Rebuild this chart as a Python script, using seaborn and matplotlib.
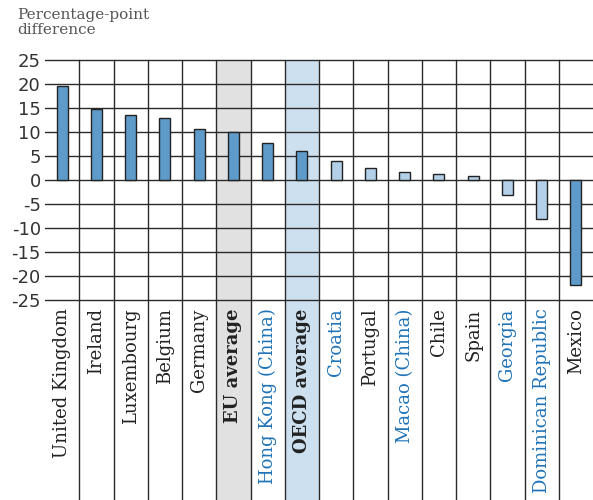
import numpy as np
import pandas as pd
import seaborn as sns
import matplotlib.pyplot as plt

countries = ["United Kingdom", "Ireland", "Luxembourg", "Belgium", "Germany",
             "EU average", "Hong Kong (China)", "OECD average", "Croatia",
             "Portugal", "Macao (China)", "Chile", "Spain", "Georgia",
             "Dominican Republic", "Mexico"]
values = [19.6, 14.8, 13.6, 13.0, 10.7, 9.9, 7.8, 6.1, 3.9, 2.5, 1.6, 1.3,
          0.9, -3.2, -8.2, -21.9]
significant = [True, True, True, True, True, True, True, True, False, False,
               False, False, False, False, False, True]
partners = ["Hong Kong (China)", "Croatia", "Macao (China)", "Georgia",
            "Dominican Republic"]
averages = {"EU average": "#e1e1e1", "OECD average": "#cde0ef"}
yticks = [25, 20, 15, 10, 5, 0, -5, -10, -15, -20, -25]

DARK = "#5e9bcb"
LIGHT = "#b3d0e8"
colors = [DARK if s else LIGHT for s in significant]

df = pd.DataFrame({"country": countries, "value": values})

sns.set_theme(style="white")
fig = plt.figure(figsize=(5.93, 5.0), dpi=100)
ax = fig.add_axes([45 / 593, 0.4, 1 - 45 / 593, 0.48])

# shaded columns for the averages, running down through the label area
for name, shade in averages.items():
    i = countries.index(name)
    ax.axvspan(i - 0.5, i + 0.5, ymin=-0.84, ymax=1, color=shade,
               clip_on=False, zorder=0, lw=0)

sns.barplot(data=df, x="country", y="value", hue="country", palette=colors,
            legend=False, width=0.32, saturation=1, edgecolor="#222222",
            linewidth=1.0, ax=ax, zorder=3)

# grid
for y in yticks:
    ax.axhline(y, color="#2a2a2a", lw=1.0, zorder=1, clip_on=False)
for i in range(len(countries) - 1):
    ax.axvline(i + 0.5, ymin=-0.84, ymax=1, color="#2a2a2a", lw=1.0,
               clip_on=False, zorder=1)

ax.set_xlim(-0.5, len(countries) - 0.5)
ax.set_ylim(-25, 25)
ax.set_yticks(yticks)
ax.set_yticklabels([str(t) for t in yticks], fontsize=13, color="#333333",
                   family="DejaVu Sans")
ax.tick_params(axis="y", length=0, pad=3)
ax.tick_params(axis="x", length=0, pad=6)
ax.set_xlabel("")
ax.set_ylabel("")
for s in ax.spines.values():
    s.set_visible(False)

ax.set_xticks(range(len(countries)))
ax.set_xticklabels(countries, rotation=90, fontsize=13, family="DejaVu Serif")
for lab in ax.get_xticklabels():
    t = lab.get_text()
    lab.set_color("#1f73b7" if t in partners else "#222222")
    if t in averages:
        lab.set_fontweight("bold")

fig.text(17 / 593, 1 - 8 / 500, "Percentage-point\ndifference", ha="left",
         va="top", fontsize=11, color="#555555", family="DejaVu Serif",
         linespacing=1.1)

fig.savefig("out.png", dpi=100)
